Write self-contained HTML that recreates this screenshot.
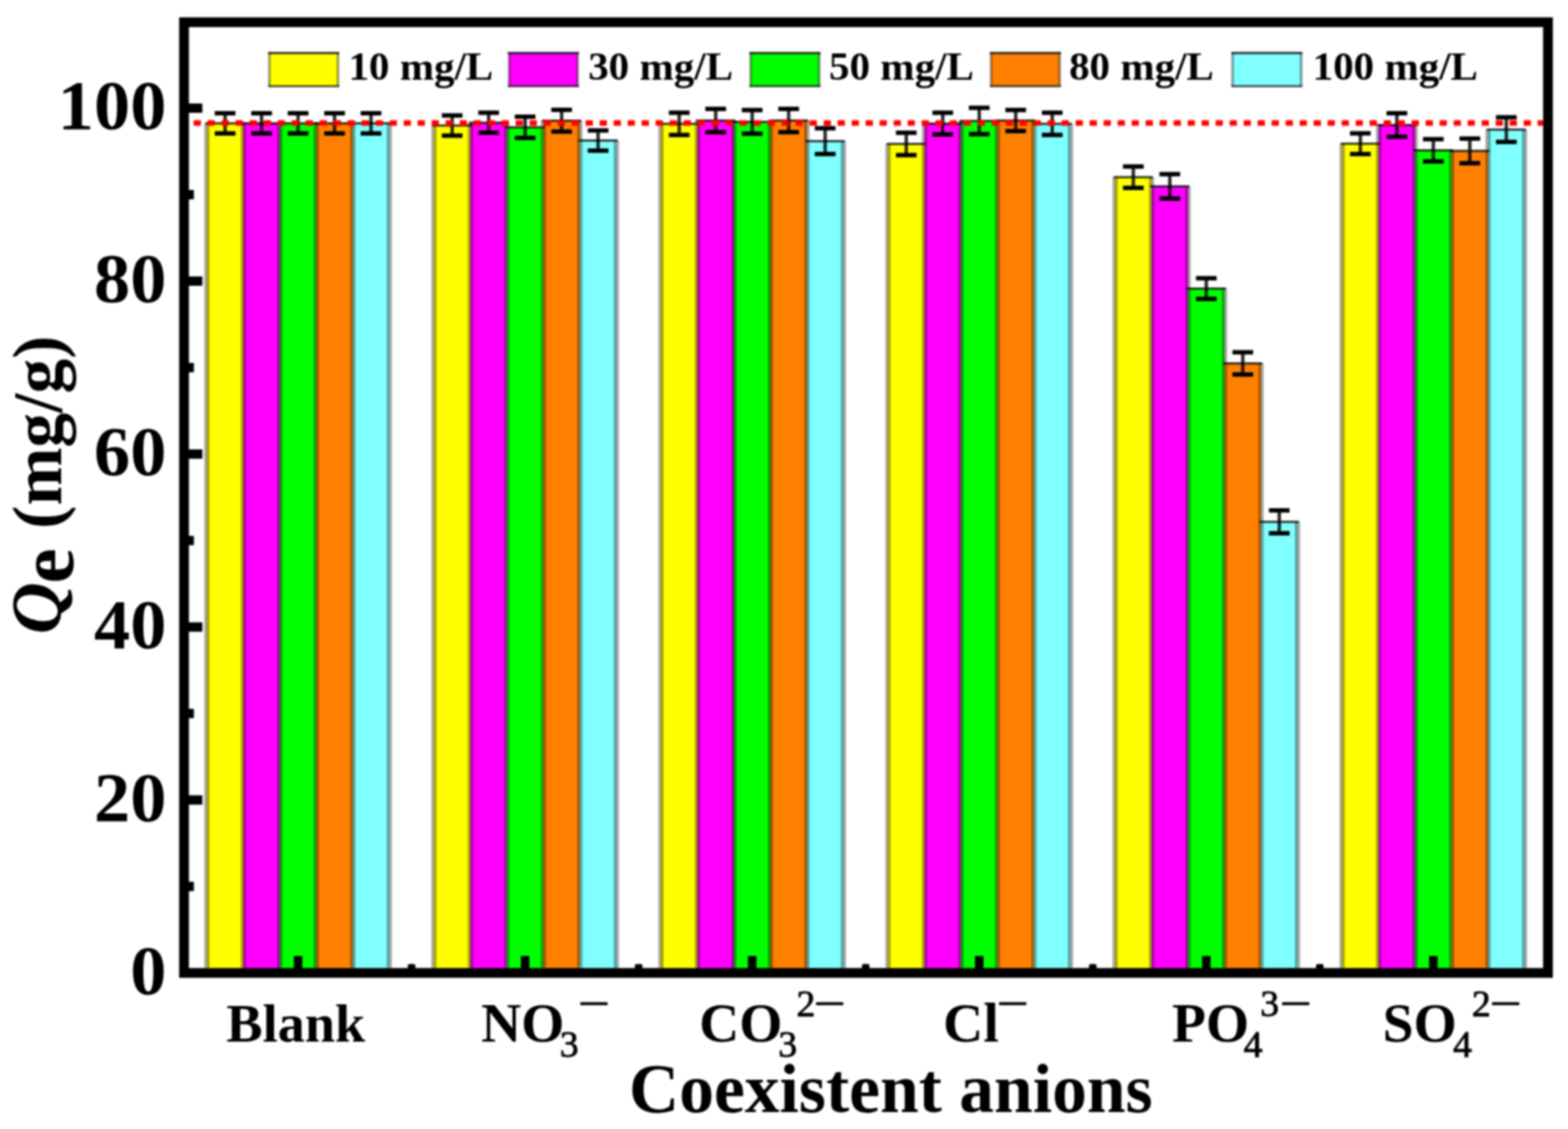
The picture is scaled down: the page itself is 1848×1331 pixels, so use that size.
<!DOCTYPE html>
<html><head><meta charset="utf-8"><title>Coexistent anions</title>
<style>html,body{margin:0;padding:0;background:#fff;overflow:hidden}svg{display:block;filter:blur(1px)}</style>
</head><body>
<svg width="1848" height="1331" viewBox="0 0 1848 1331" font-family="'Liberation Serif','Times New Roman',serif" font-weight="bold">
<rect x="0" y="0" width="1848" height="1331" fill="#fff"/>
<rect x="243.80" y="145.40" width="43.00" height="996.85" fill="#ffff00"/>
<rect x="286.80" y="145.40" width="43.00" height="996.85" fill="#ff00ff"/>
<rect x="329.80" y="145.40" width="43.00" height="996.85" fill="#00ff00"/>
<rect x="372.80" y="145.40" width="43.00" height="996.85" fill="#ff8000"/>
<rect x="415.80" y="145.40" width="43.00" height="996.85" fill="#80ffff"/>
<rect x="511.40" y="148.00" width="43.00" height="994.25" fill="#ffff00"/>
<rect x="554.40" y="144.70" width="43.00" height="997.55" fill="#ff00ff"/>
<rect x="597.40" y="150.10" width="43.00" height="992.15" fill="#00ff00"/>
<rect x="640.40" y="142.30" width="43.00" height="999.95" fill="#ff8000"/>
<rect x="683.40" y="165.70" width="43.00" height="976.55" fill="#80ffff"/>
<rect x="779.00" y="146.00" width="43.00" height="996.25" fill="#ffff00"/>
<rect x="822.00" y="142.10" width="43.00" height="1000.15" fill="#ff00ff"/>
<rect x="865.00" y="143.70" width="43.00" height="998.55" fill="#00ff00"/>
<rect x="908.00" y="142.10" width="43.00" height="1000.15" fill="#ff8000"/>
<rect x="951.00" y="166.40" width="43.00" height="975.85" fill="#80ffff"/>
<rect x="1046.60" y="169.70" width="43.00" height="972.55" fill="#ffff00"/>
<rect x="1089.60" y="145.70" width="43.00" height="996.55" fill="#ff00ff"/>
<rect x="1132.60" y="142.60" width="43.00" height="999.65" fill="#00ff00"/>
<rect x="1175.60" y="142.10" width="43.00" height="1000.15" fill="#ff8000"/>
<rect x="1218.60" y="146.00" width="43.00" height="996.25" fill="#80ffff"/>
<rect x="1314.20" y="208.90" width="43.00" height="933.35" fill="#ffff00"/>
<rect x="1357.20" y="219.70" width="43.00" height="922.55" fill="#ff00ff"/>
<rect x="1400.20" y="340.20" width="43.00" height="802.05" fill="#00ff00"/>
<rect x="1443.20" y="428.40" width="43.00" height="713.85" fill="#ff8000"/>
<rect x="1486.20" y="615.20" width="43.00" height="527.05" fill="#80ffff"/>
<rect x="1581.80" y="169.40" width="43.00" height="972.85" fill="#ffff00"/>
<rect x="1624.80" y="147.40" width="43.00" height="994.85" fill="#ff00ff"/>
<rect x="1667.80" y="177.20" width="43.00" height="965.05" fill="#00ff00"/>
<rect x="1710.80" y="177.90" width="43.00" height="964.35" fill="#ff8000"/>
<rect x="1753.80" y="152.80" width="43.00" height="989.45" fill="#80ffff"/>
<rect x="1793.80" y="152.80" width="6" height="988.45" fill="#000" fill-opacity="0.36"/>
<rect x="1750.80" y="152.80" width="6" height="988.45" fill="#000" fill-opacity="0.36"/>
<rect x="1707.80" y="177.20" width="6" height="964.05" fill="#000" fill-opacity="0.36"/>
<rect x="1664.80" y="147.40" width="6" height="993.85" fill="#000" fill-opacity="0.36"/>
<rect x="1621.80" y="147.40" width="6" height="993.85" fill="#000" fill-opacity="0.36"/>
<rect x="1578.80" y="169.40" width="6" height="971.85" fill="#000" fill-opacity="0.36"/>
<rect x="1526.20" y="615.20" width="6" height="526.05" fill="#000" fill-opacity="0.36"/>
<rect x="1483.20" y="428.40" width="6" height="712.85" fill="#000" fill-opacity="0.36"/>
<rect x="1440.20" y="340.20" width="6" height="801.05" fill="#000" fill-opacity="0.36"/>
<rect x="1397.20" y="219.70" width="6" height="921.55" fill="#000" fill-opacity="0.36"/>
<rect x="1354.20" y="208.90" width="6" height="932.35" fill="#000" fill-opacity="0.36"/>
<rect x="1311.20" y="208.90" width="6" height="932.35" fill="#000" fill-opacity="0.36"/>
<rect x="1258.60" y="146.00" width="6" height="995.25" fill="#000" fill-opacity="0.36"/>
<rect x="1215.60" y="142.10" width="6" height="999.15" fill="#000" fill-opacity="0.36"/>
<rect x="1172.60" y="142.10" width="6" height="999.15" fill="#000" fill-opacity="0.36"/>
<rect x="1129.60" y="142.60" width="6" height="998.65" fill="#000" fill-opacity="0.36"/>
<rect x="1086.60" y="145.70" width="6" height="995.55" fill="#000" fill-opacity="0.36"/>
<rect x="1043.60" y="169.70" width="6" height="971.55" fill="#000" fill-opacity="0.36"/>
<rect x="991.00" y="166.40" width="6" height="974.85" fill="#000" fill-opacity="0.36"/>
<rect x="948.00" y="142.10" width="6" height="999.15" fill="#000" fill-opacity="0.36"/>
<rect x="905.00" y="142.10" width="6" height="999.15" fill="#000" fill-opacity="0.36"/>
<rect x="862.00" y="142.10" width="6" height="999.15" fill="#000" fill-opacity="0.36"/>
<rect x="819.00" y="142.10" width="6" height="999.15" fill="#000" fill-opacity="0.36"/>
<rect x="776.00" y="146.00" width="6" height="995.25" fill="#000" fill-opacity="0.36"/>
<rect x="723.40" y="165.70" width="6" height="975.55" fill="#000" fill-opacity="0.36"/>
<rect x="680.40" y="142.30" width="6" height="998.95" fill="#000" fill-opacity="0.36"/>
<rect x="637.40" y="142.30" width="6" height="998.95" fill="#000" fill-opacity="0.36"/>
<rect x="594.40" y="144.70" width="6" height="996.55" fill="#000" fill-opacity="0.36"/>
<rect x="551.40" y="144.70" width="6" height="996.55" fill="#000" fill-opacity="0.36"/>
<rect x="508.40" y="148.00" width="6" height="993.25" fill="#000" fill-opacity="0.36"/>
<rect x="455.80" y="145.40" width="6" height="995.85" fill="#000" fill-opacity="0.36"/>
<rect x="412.80" y="145.40" width="6" height="995.85" fill="#000" fill-opacity="0.36"/>
<rect x="369.80" y="145.40" width="6" height="995.85" fill="#000" fill-opacity="0.36"/>
<rect x="326.80" y="145.40" width="6" height="995.85" fill="#000" fill-opacity="0.36"/>
<rect x="283.80" y="145.40" width="6" height="995.85" fill="#000" fill-opacity="0.36"/>
<rect x="240.80" y="145.40" width="6" height="995.85" fill="#000" fill-opacity="0.36"/>
<rect x="242.20" y="144.10" width="46.20" height="2.6" fill="#000" fill-opacity="0.8"/>
<rect x="285.20" y="144.10" width="46.20" height="2.6" fill="#000" fill-opacity="0.8"/>
<rect x="328.20" y="144.10" width="46.20" height="2.6" fill="#000" fill-opacity="0.8"/>
<rect x="371.20" y="144.10" width="46.20" height="2.6" fill="#000" fill-opacity="0.8"/>
<rect x="414.20" y="144.10" width="46.20" height="2.6" fill="#000" fill-opacity="0.8"/>
<rect x="509.80" y="146.70" width="46.20" height="2.6" fill="#000" fill-opacity="0.8"/>
<rect x="552.80" y="143.40" width="46.20" height="2.6" fill="#000" fill-opacity="0.8"/>
<rect x="595.80" y="148.80" width="46.20" height="2.6" fill="#000" fill-opacity="0.8"/>
<rect x="638.80" y="141.00" width="46.20" height="2.6" fill="#000" fill-opacity="0.8"/>
<rect x="681.80" y="164.40" width="46.20" height="2.6" fill="#000" fill-opacity="0.8"/>
<rect x="777.40" y="144.70" width="46.20" height="2.6" fill="#000" fill-opacity="0.8"/>
<rect x="820.40" y="140.80" width="46.20" height="2.6" fill="#000" fill-opacity="0.8"/>
<rect x="863.40" y="142.40" width="46.20" height="2.6" fill="#000" fill-opacity="0.8"/>
<rect x="906.40" y="140.80" width="46.20" height="2.6" fill="#000" fill-opacity="0.8"/>
<rect x="949.40" y="165.10" width="46.20" height="2.6" fill="#000" fill-opacity="0.8"/>
<rect x="1045.00" y="168.40" width="46.20" height="2.6" fill="#000" fill-opacity="0.8"/>
<rect x="1088.00" y="144.40" width="46.20" height="2.6" fill="#000" fill-opacity="0.8"/>
<rect x="1131.00" y="141.30" width="46.20" height="2.6" fill="#000" fill-opacity="0.8"/>
<rect x="1174.00" y="140.80" width="46.20" height="2.6" fill="#000" fill-opacity="0.8"/>
<rect x="1217.00" y="144.70" width="46.20" height="2.6" fill="#000" fill-opacity="0.8"/>
<rect x="1312.60" y="207.60" width="46.20" height="2.6" fill="#000" fill-opacity="0.8"/>
<rect x="1355.60" y="218.40" width="46.20" height="2.6" fill="#000" fill-opacity="0.8"/>
<rect x="1398.60" y="338.90" width="46.20" height="2.6" fill="#000" fill-opacity="0.8"/>
<rect x="1441.60" y="427.10" width="46.20" height="2.6" fill="#000" fill-opacity="0.8"/>
<rect x="1484.60" y="613.90" width="46.20" height="2.6" fill="#000" fill-opacity="0.8"/>
<rect x="1580.20" y="168.10" width="46.20" height="2.6" fill="#000" fill-opacity="0.8"/>
<rect x="1623.20" y="146.10" width="46.20" height="2.6" fill="#000" fill-opacity="0.8"/>
<rect x="1666.20" y="175.90" width="46.20" height="2.6" fill="#000" fill-opacity="0.8"/>
<rect x="1709.20" y="176.60" width="46.20" height="2.6" fill="#000" fill-opacity="0.8"/>
<rect x="1752.20" y="151.50" width="46.20" height="2.6" fill="#000" fill-opacity="0.8"/>
<rect x="263.30" y="133.50" width="4" height="23.80" fill="#000" fill-opacity="0.85"/>
<rect x="253.10" y="130.90" width="24.4" height="5.2" fill="#000"/>
<rect x="253.10" y="154.70" width="24.4" height="5.2" fill="#000"/>
<rect x="306.30" y="133.50" width="4" height="23.80" fill="#000" fill-opacity="0.85"/>
<rect x="296.10" y="130.90" width="24.4" height="5.2" fill="#000"/>
<rect x="296.10" y="154.70" width="24.4" height="5.2" fill="#000"/>
<rect x="349.30" y="133.50" width="4" height="23.80" fill="#000" fill-opacity="0.85"/>
<rect x="339.10" y="130.90" width="24.4" height="5.2" fill="#000"/>
<rect x="339.10" y="154.70" width="24.4" height="5.2" fill="#000"/>
<rect x="392.30" y="133.50" width="4" height="23.80" fill="#000" fill-opacity="0.85"/>
<rect x="382.10" y="130.90" width="24.4" height="5.2" fill="#000"/>
<rect x="382.10" y="154.70" width="24.4" height="5.2" fill="#000"/>
<rect x="435.30" y="133.50" width="4" height="23.80" fill="#000" fill-opacity="0.85"/>
<rect x="425.10" y="130.90" width="24.4" height="5.2" fill="#000"/>
<rect x="425.10" y="154.70" width="24.4" height="5.2" fill="#000"/>
<rect x="530.90" y="136.10" width="4" height="23.80" fill="#000" fill-opacity="0.85"/>
<rect x="520.70" y="133.50" width="24.4" height="5.2" fill="#000"/>
<rect x="520.70" y="157.30" width="24.4" height="5.2" fill="#000"/>
<rect x="573.90" y="132.90" width="4" height="23.60" fill="#000" fill-opacity="0.85"/>
<rect x="563.70" y="130.30" width="24.4" height="5.2" fill="#000"/>
<rect x="563.70" y="153.90" width="24.4" height="5.2" fill="#000"/>
<rect x="616.90" y="137.60" width="4" height="25.00" fill="#000" fill-opacity="0.85"/>
<rect x="606.70" y="135.00" width="24.4" height="5.2" fill="#000"/>
<rect x="606.70" y="160.00" width="24.4" height="5.2" fill="#000"/>
<rect x="659.90" y="129.50" width="4" height="25.60" fill="#000" fill-opacity="0.85"/>
<rect x="649.70" y="126.90" width="24.4" height="5.2" fill="#000"/>
<rect x="649.70" y="152.50" width="24.4" height="5.2" fill="#000"/>
<rect x="702.90" y="153.80" width="4" height="23.80" fill="#000" fill-opacity="0.85"/>
<rect x="692.70" y="151.20" width="24.4" height="5.2" fill="#000"/>
<rect x="692.70" y="175.00" width="24.4" height="5.2" fill="#000"/>
<rect x="798.50" y="132.90" width="4" height="26.20" fill="#000" fill-opacity="0.85"/>
<rect x="788.30" y="130.30" width="24.4" height="5.2" fill="#000"/>
<rect x="788.30" y="156.50" width="24.4" height="5.2" fill="#000"/>
<rect x="841.50" y="128.40" width="4" height="27.40" fill="#000" fill-opacity="0.85"/>
<rect x="831.30" y="125.80" width="24.4" height="5.2" fill="#000"/>
<rect x="831.30" y="153.20" width="24.4" height="5.2" fill="#000"/>
<rect x="884.50" y="129.80" width="4" height="27.80" fill="#000" fill-opacity="0.85"/>
<rect x="874.30" y="127.20" width="24.4" height="5.2" fill="#000"/>
<rect x="874.30" y="155.00" width="24.4" height="5.2" fill="#000"/>
<rect x="927.50" y="128.40" width="4" height="27.40" fill="#000" fill-opacity="0.85"/>
<rect x="917.30" y="125.80" width="24.4" height="5.2" fill="#000"/>
<rect x="917.30" y="153.20" width="24.4" height="5.2" fill="#000"/>
<rect x="970.50" y="151.20" width="4" height="30.40" fill="#000" fill-opacity="0.85"/>
<rect x="960.30" y="148.60" width="24.4" height="5.2" fill="#000"/>
<rect x="960.30" y="179.00" width="24.4" height="5.2" fill="#000"/>
<rect x="1066.10" y="156.50" width="4" height="26.40" fill="#000" fill-opacity="0.85"/>
<rect x="1055.90" y="153.90" width="24.4" height="5.2" fill="#000"/>
<rect x="1055.90" y="180.30" width="24.4" height="5.2" fill="#000"/>
<rect x="1109.10" y="132.90" width="4" height="25.60" fill="#000" fill-opacity="0.85"/>
<rect x="1098.90" y="130.30" width="24.4" height="5.2" fill="#000"/>
<rect x="1098.90" y="155.90" width="24.4" height="5.2" fill="#000"/>
<rect x="1152.10" y="127.10" width="4" height="31.00" fill="#000" fill-opacity="0.85"/>
<rect x="1141.90" y="124.50" width="24.4" height="5.2" fill="#000"/>
<rect x="1141.90" y="155.50" width="24.4" height="5.2" fill="#000"/>
<rect x="1195.10" y="129.70" width="4" height="24.80" fill="#000" fill-opacity="0.85"/>
<rect x="1184.90" y="127.10" width="24.4" height="5.2" fill="#000"/>
<rect x="1184.90" y="151.90" width="24.4" height="5.2" fill="#000"/>
<rect x="1238.10" y="132.90" width="4" height="26.20" fill="#000" fill-opacity="0.85"/>
<rect x="1227.90" y="130.30" width="24.4" height="5.2" fill="#000"/>
<rect x="1227.90" y="156.50" width="24.4" height="5.2" fill="#000"/>
<rect x="1333.70" y="196.30" width="4" height="25.20" fill="#000" fill-opacity="0.85"/>
<rect x="1323.50" y="193.70" width="24.4" height="5.2" fill="#000"/>
<rect x="1323.50" y="218.90" width="24.4" height="5.2" fill="#000"/>
<rect x="1376.70" y="205.30" width="4" height="28.80" fill="#000" fill-opacity="0.85"/>
<rect x="1366.50" y="202.70" width="24.4" height="5.2" fill="#000"/>
<rect x="1366.50" y="231.50" width="24.4" height="5.2" fill="#000"/>
<rect x="1419.70" y="328.00" width="4" height="24.40" fill="#000" fill-opacity="0.85"/>
<rect x="1409.50" y="325.40" width="24.4" height="5.2" fill="#000"/>
<rect x="1409.50" y="349.80" width="24.4" height="5.2" fill="#000"/>
<rect x="1462.70" y="415.30" width="4" height="26.20" fill="#000" fill-opacity="0.85"/>
<rect x="1452.50" y="412.70" width="24.4" height="5.2" fill="#000"/>
<rect x="1452.50" y="438.90" width="24.4" height="5.2" fill="#000"/>
<rect x="1505.70" y="601.70" width="4" height="27.00" fill="#000" fill-opacity="0.85"/>
<rect x="1495.50" y="599.10" width="24.4" height="5.2" fill="#000"/>
<rect x="1495.50" y="626.10" width="24.4" height="5.2" fill="#000"/>
<rect x="1601.30" y="157.20" width="4" height="24.40" fill="#000" fill-opacity="0.85"/>
<rect x="1591.10" y="154.60" width="24.4" height="5.2" fill="#000"/>
<rect x="1591.10" y="179.00" width="24.4" height="5.2" fill="#000"/>
<rect x="1644.30" y="133.50" width="4" height="27.80" fill="#000" fill-opacity="0.85"/>
<rect x="1634.10" y="130.90" width="24.4" height="5.2" fill="#000"/>
<rect x="1634.10" y="158.70" width="24.4" height="5.2" fill="#000"/>
<rect x="1687.30" y="164.10" width="4" height="26.20" fill="#000" fill-opacity="0.85"/>
<rect x="1677.10" y="161.50" width="24.4" height="5.2" fill="#000"/>
<rect x="1677.10" y="187.70" width="24.4" height="5.2" fill="#000"/>
<rect x="1730.30" y="163.40" width="4" height="29.00" fill="#000" fill-opacity="0.85"/>
<rect x="1720.10" y="160.80" width="24.4" height="5.2" fill="#000"/>
<rect x="1720.10" y="189.80" width="24.4" height="5.2" fill="#000"/>
<rect x="1773.30" y="138.30" width="4" height="29.00" fill="#000" fill-opacity="0.85"/>
<rect x="1763.10" y="135.70" width="24.4" height="5.2" fill="#000"/>
<rect x="1763.10" y="164.70" width="24.4" height="5.2" fill="#000"/>
<line x1="228.25" y1="145" x2="1818.7" y2="145" stroke="#ff0000" stroke-width="6.5" stroke-dasharray="8.5 8"/>
<rect x="216.9" y="26.2" width="1607.50" height="1120.80" fill="none" stroke="#000" stroke-width="11.5"/>
<rect x="221.65" y="1039.55" width="6.85" height="11" fill="#000"/>
<rect x="221.65" y="937.60" width="16.85" height="11" fill="#000"/>
<rect x="221.65" y="835.65" width="6.85" height="11" fill="#000"/>
<rect x="221.65" y="733.70" width="16.85" height="11" fill="#000"/>
<rect x="221.65" y="631.75" width="6.85" height="11" fill="#000"/>
<rect x="221.65" y="529.80" width="16.85" height="11" fill="#000"/>
<rect x="221.65" y="427.85" width="6.85" height="11" fill="#000"/>
<rect x="221.65" y="325.90" width="16.85" height="11" fill="#000"/>
<rect x="221.65" y="223.95" width="6.85" height="11" fill="#000"/>
<rect x="221.65" y="122.00" width="16.85" height="11" fill="#000"/>
<rect x="346.30" y="1127" width="10" height="15.25" fill="#000"/>
<rect x="480.60" y="1136.5" width="9" height="5.75" rx="2" fill="#000"/>
<rect x="613.90" y="1127" width="10" height="15.25" fill="#000"/>
<rect x="748.20" y="1136.5" width="9" height="5.75" rx="2" fill="#000"/>
<rect x="881.50" y="1127" width="10" height="15.25" fill="#000"/>
<rect x="1015.80" y="1136.5" width="9" height="5.75" rx="2" fill="#000"/>
<rect x="1149.10" y="1127" width="10" height="15.25" fill="#000"/>
<rect x="1283.40" y="1136.5" width="9" height="5.75" rx="2" fill="#000"/>
<rect x="1416.70" y="1127" width="10" height="15.25" fill="#000"/>
<rect x="1551.00" y="1136.5" width="9" height="5.75" rx="2" fill="#000"/>
<rect x="1684.30" y="1127" width="10" height="15.25" fill="#000"/>
<text transform="translate(153.40,1171.60) scale(1.0400,1.0000)" font-size="82">0</text>
<text transform="translate(110.76,967.70) scale(1.0400,1.0000)" font-size="82">20</text>
<text transform="translate(110.76,763.80) scale(1.0400,1.0000)" font-size="82">40</text>
<text transform="translate(110.76,559.90) scale(1.0400,1.0000)" font-size="82">60</text>
<text transform="translate(110.76,356.00) scale(1.0400,1.0000)" font-size="82">80</text>
<text transform="translate(68.12,152.10) scale(1.0400,1.0000)" font-size="82">100</text>
<rect x="317.50" y="62.5" width="80.8" height="39" fill="#ffff00"/>
<rect x="315.90" y="62.5" width="3.2" height="39" fill="#000" fill-opacity="0.38"/>
<rect x="396.70" y="62.5" width="3.2" height="39" fill="#000" fill-opacity="0.38"/>
<rect x="315.90" y="61.2" width="84.0" height="2.6" fill="#000" fill-opacity="0.8"/>
<rect x="315.90" y="100.4" width="84.0" height="2.4" fill="#000" fill-opacity="0.7"/>
<text transform="translate(410.63,93.60) scale(1.0300,1.0000)" font-size="47">10 mg/L</text>
<rect x="600.00" y="62.5" width="80.8" height="39" fill="#ff00ff"/>
<rect x="598.40" y="62.5" width="3.2" height="39" fill="#000" fill-opacity="0.38"/>
<rect x="679.20" y="62.5" width="3.2" height="39" fill="#000" fill-opacity="0.38"/>
<rect x="598.40" y="61.2" width="84.0" height="2.6" fill="#000" fill-opacity="0.8"/>
<rect x="598.40" y="100.4" width="84.0" height="2.4" fill="#000" fill-opacity="0.7"/>
<text transform="translate(693.16,93.60) scale(1.0300,1.0000)" font-size="47">30 mg/L</text>
<rect x="884.70" y="62.5" width="80.8" height="39" fill="#00ff00"/>
<rect x="883.10" y="62.5" width="3.2" height="39" fill="#000" fill-opacity="0.38"/>
<rect x="963.90" y="62.5" width="3.2" height="39" fill="#000" fill-opacity="0.38"/>
<rect x="883.10" y="61.2" width="84.0" height="2.6" fill="#000" fill-opacity="0.8"/>
<rect x="883.10" y="100.4" width="84.0" height="2.4" fill="#000" fill-opacity="0.7"/>
<text transform="translate(977.06,93.60) scale(1.0300,1.0000)" font-size="47">50 mg/L</text>
<rect x="1168.10" y="62.5" width="80.8" height="39" fill="#ff8000"/>
<rect x="1166.50" y="62.5" width="3.2" height="39" fill="#000" fill-opacity="0.38"/>
<rect x="1247.30" y="62.5" width="3.2" height="39" fill="#000" fill-opacity="0.38"/>
<rect x="1166.50" y="61.2" width="84.0" height="2.6" fill="#000" fill-opacity="0.8"/>
<rect x="1166.50" y="100.4" width="84.0" height="2.4" fill="#000" fill-opacity="0.7"/>
<text transform="translate(1259.90,93.60) scale(1.0300,1.0000)" font-size="47">80 mg/L</text>
<rect x="1452.70" y="62.5" width="80.8" height="39" fill="#80ffff"/>
<rect x="1451.10" y="62.5" width="3.2" height="39" fill="#000" fill-opacity="0.38"/>
<rect x="1531.90" y="62.5" width="3.2" height="39" fill="#000" fill-opacity="0.38"/>
<rect x="1451.10" y="61.2" width="84.0" height="2.6" fill="#000" fill-opacity="0.8"/>
<rect x="1451.10" y="100.4" width="84.0" height="2.4" fill="#000" fill-opacity="0.7"/>
<text transform="translate(1546.93,93.60) scale(1.0300,1.0000)" font-size="47">100 mg/L</text>
<text><tspan x="266.71" y="1227.80" font-size="64">Blank</tspan></text>
<text><tspan x="566.96" y="1227.80" font-size="65.5">NO</tspan><tspan x="659.86" y="1245.80" font-size="44.5" font-weight="normal" stroke="#000" stroke-width="0.9">3</tspan><tspan x="680.75" y="1205.91" font-size="69" font-weight="normal">−</tspan></text>
<text><tspan x="823.99" y="1227.80" font-size="65.5">CO</tspan><tspan x="917.16" y="1245.80" font-size="44.5" font-weight="normal" stroke="#000" stroke-width="0.9">3</tspan><tspan x="938.64" y="1198.00" font-size="44.5" font-weight="normal" stroke="#000" stroke-width="0.9">2</tspan><tspan x="958.55" y="1205.91" font-size="69" font-weight="normal">−</tspan></text>
<text><tspan x="1111.59" y="1227.80" font-size="65.5">Cl</tspan><tspan x="1174.35" y="1205.91" font-size="69" font-weight="normal">−</tspan></text>
<text><tspan x="1381.19" y="1227.80" font-size="65.5">PO</tspan><tspan x="1465.71" y="1245.80" font-size="44.5" font-weight="normal" stroke="#000" stroke-width="0.9">4</tspan><tspan x="1485.36" y="1198.00" font-size="44.5" font-weight="normal" stroke="#000" stroke-width="0.9">3</tspan><tspan x="1507.75" y="1205.91" font-size="69" font-weight="normal">−</tspan></text>
<text><tspan x="1629.53" y="1227.80" font-size="65.5">SO</tspan><tspan x="1712.61" y="1245.80" font-size="44.5" font-weight="normal" stroke="#000" stroke-width="0.9">4</tspan><tspan x="1734.74" y="1198.00" font-size="44.5" font-weight="normal" stroke="#000" stroke-width="0.9">2</tspan><tspan x="1755.15" y="1205.91" font-size="69" font-weight="normal">−</tspan></text>
<text transform="translate(741.18,1311.20)" font-size="82">Coexistent anions</text>
<g transform="rotate(-90)"><text><tspan x="-747.7" y="71.5" font-size="85" font-style="italic">Q</tspan><tspan x="-687.9" y="85.9" font-size="94">e</tspan><tspan x="-643.9" y="71.5" font-size="82"> (mg/g)</tspan></text></g>
</svg>
</body></html>
